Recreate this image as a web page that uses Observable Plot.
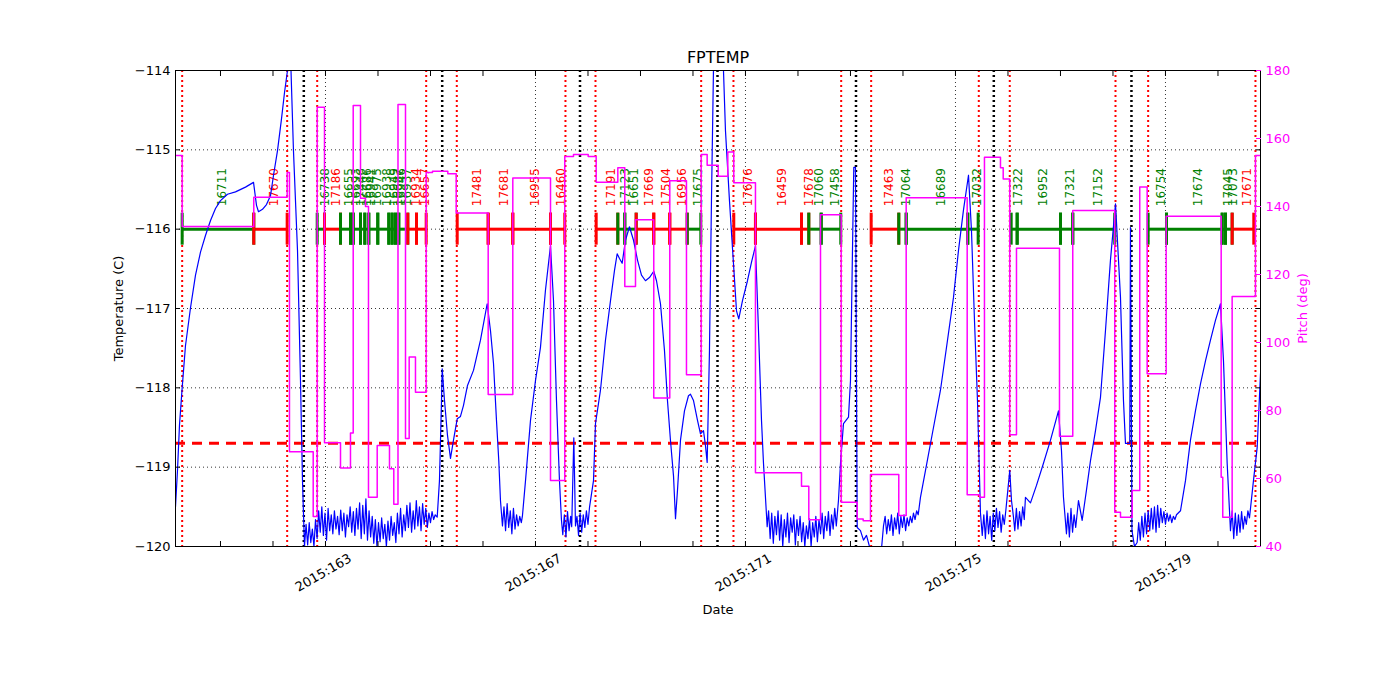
<!DOCTYPE html>
<html><head><meta charset="utf-8">
<script src="https://cdn.jsdelivr.net/npm/d3@7"></script>
<script src="https://cdn.jsdelivr.net/npm/@observablehq/plot@0.6"></script>
<style>body{margin:0;background:#fff;}</style>
</head><body><div id="chart"></div>
<script>
const year = 2015;
const titleText = "FPTEMP";
const xDomain = [160.143, 180.81];
const tempDomain = [-120, -114];
const pitchDomain = [40, 180];
const tempTicks = [-120, -119, -118, -117, -116, -115, -114];
const pitchTicks = [40, 60, 80, 100, 120, 140, 160, 180];
const dayTicks = [161,162,163,164,165,166,167,168,169,170,171,172,173,174,175,176,177,178,179,180];
const dayLabels = [163, 167, 171, 175, 179];
const planLimit = -118.7;
const obsidLevel = -116;

// radiation-zone boundaries (red dotted) and perigee times (black dotted), day of year
const radZone = [160.270,162.270,162.842,164.918,165.501,167.571,168.143,170.156,170.771,172.823,173.394,175.444,176.034,178.048,178.670,180.714];
const perigee = [162.587,165.223,167.848,170.467,173.105,175.730,178.352];

// observations along the schedule line
const obsId = ["16711","17670","16738","17186","16655","16693","17446","16686","16941","16975","16938","16949","16687","16946","16937","16934","16657",
  "17481","17681","16955","16460","17191","17123","16651","17669","17504","16956","17675",
  "17676","16459","17678","17060","17458","17463","17064","16689","17032",
  "17322","16952","17321","17152","16754","17674","17045","17073","17671"];
const obsStart = [160.270,161.634,162.842,162.981,163.286,163.476,163.528,163.667,163.749,163.825,163.996,164.206,164.270,164.333,164.396,164.568,164.733,
  165.509,166.099,166.568,167.286,168.156,168.568,168.701,168.918,169.253,169.558,169.890,
  170.777,171.190,172.067,172.206,172.442,173.394,173.920,174.061,175.234,
  176.061,176.175,177.000,177.234,178.670,179.019,180.080,180.143,180.270];
const obsStop = [161.634,162.270,162.981,163.286,163.476,163.528,163.667,163.749,163.825,163.996,164.206,164.270,164.333,164.396,164.568,164.733,164.918,
  166.099,166.568,167.286,167.558,168.568,168.701,168.918,169.253,169.558,169.890,170.149,
  171.190,172.067,172.206,172.442,172.815,173.920,174.061,175.234,175.432,
  176.175,177.000,177.234,178.034,179.019,180.080,180.143,180.270,180.682];
const obsKind = ["g","r","g","r","g","g","g","g","g","g","g","g","g","g","g","r","r",
  "r","r","r","r","r","g","g","r","r","r","g",
  "r","r","r","g","g","r","g","g","g",
  "g","g","g","g","g","g","g","g","r"];

// FPTEMP [day of year, deg C]
const fptemp = [
[160.143,-119.50],[160.181,-119.04],[160.219,-118.47],[160.270,-118.00],[160.333,-117.47],[160.429,-116.99],[160.524,-116.58],[160.619,-116.29],[160.714,-116.08],[160.810,-115.89],[160.905,-115.74],[161.000,-115.64],[161.133,-115.56],[161.286,-115.53],[161.476,-115.47],[161.629,-115.41],[161.686,-115.70],[161.724,-115.78],[161.800,-115.75],[161.876,-115.69],[161.952,-115.58],[162.010,-115.32],[162.086,-115.01],[162.162,-114.61],[162.219,-114.28],[162.276,-114.00],[162.314,-113.68],[162.343,-114.00],[162.390,-115.01],[162.467,-116.27],[162.524,-117.91],[162.562,-119.17],[162.600,-120.00],
[162.63,-119.72],[162.66,-119.98],[162.69,-119.70],[162.72,-119.95],[162.75,-119.78],[162.78,-120.00],[162.81,-119.66],[162.84,-119.90],[162.87,-119.55],[162.90,-119.82],[162.93,-119.50],[162.96,-119.86],[162.99,-119.58],[163.02,-119.92],[163.05,-119.52],[163.08,-119.80],[163.11,-119.60],[163.14,-119.84],[163.17,-119.55],[163.20,-119.78],[163.23,-119.62],[163.26,-119.85],[163.29,-119.54],[163.32,-119.80],[163.35,-119.58],[163.38,-119.88],[163.41,-119.60],[163.44,-119.75],[163.47,-119.50],[163.50,-119.82],[163.53,-119.56],[163.56,-119.86],[163.59,-119.52],[163.62,-119.78],[163.65,-119.45],[163.68,-119.90],[163.71,-119.48],[163.74,-119.84],[163.77,-119.40],[163.80,-119.92],[163.83,-119.55],[163.86,-119.88],[163.89,-119.62],[163.92,-119.96],[163.95,-119.66],[163.98,-120.00],[164.01,-119.70],[164.04,-119.94],[164.07,-119.64],[164.10,-119.90],[164.13,-119.72],[164.16,-120.00],[164.19,-119.68],[164.22,-119.92],[164.25,-119.62],[164.28,-119.86],[164.31,-119.70],[164.34,-119.95],[164.37,-119.58],[164.40,-119.84],[164.43,-119.52],[164.46,-119.88],[164.49,-119.60],[164.52,-119.80],[164.55,-119.48],[164.58,-119.76],[164.61,-119.45],[164.64,-119.82],[164.67,-119.55],[164.70,-119.78],[164.73,-119.42],[164.76,-119.74],[164.79,-119.50],[164.82,-119.80],[164.85,-119.46],[164.88,-119.72],[164.91,-119.52],[164.94,-119.76],[164.97,-119.58],[165.00,-119.70],[165.03,-119.56],[165.06,-119.66],[165.09,-119.60],[165.128,-119.63],
[165.171,-119.17],[165.210,-118.16],[165.223,-117.76],[165.267,-118.16],[165.324,-118.60],[165.381,-118.89],[165.438,-118.66],[165.509,-118.39],[165.571,-118.36],[165.629,-118.22],[165.705,-117.97],[165.819,-117.78],[165.952,-117.40],[166.080,-116.94],[166.143,-117.28],[166.200,-117.69],[166.257,-118.41],[166.301,-118.92],[166.333,-119.42],[166.371,-119.74],
[166.40,-119.50],[166.43,-119.80],[166.46,-119.46],[166.49,-119.76],[166.52,-119.55],[166.55,-119.84],[166.58,-119.52],[166.61,-119.78],[166.64,-119.60],[166.67,-119.74],[166.70,-119.62],[166.73,-119.70],
[166.752,-119.61],[166.810,-119.17],[166.905,-118.41],[167.000,-117.91],[167.095,-117.49],[167.190,-116.77],[167.286,-116.21],[167.343,-116.90],[167.400,-118.16],[167.457,-119.17],[167.495,-119.67],
[167.52,-119.85],[167.55,-119.60],[167.58,-119.88],[167.61,-119.56],[167.64,-119.80],[167.67,-119.62],[167.69,-119.75],[167.730,-118.63],[167.762,-119.74],
[167.79,-119.62],[167.82,-119.86],[167.85,-119.58],[167.88,-119.82],[167.91,-119.60],[167.94,-119.76],[167.97,-119.55],[168.00,-119.72],[168.03,-119.50],
[168.105,-119.17],[168.143,-118.45],[168.238,-118.03],[168.333,-117.40],[168.429,-116.90],[168.505,-116.52],[168.556,-116.31],[168.600,-116.37],[168.651,-116.43],[168.714,-116.14],[168.790,-115.97],[168.867,-116.14],[168.943,-116.39],[169.019,-116.58],[169.095,-116.65],[169.171,-116.61],[169.253,-116.53],[169.305,-116.65],[169.381,-116.94],[169.457,-117.53],[169.514,-118.16],[169.571,-118.66],[169.629,-119.11],[169.667,-119.65],[169.705,-119.29],[169.762,-118.66],[169.838,-118.29],[169.914,-118.10],[169.952,-118.08],[170.010,-118.16],[170.086,-118.41],[170.143,-118.58],[170.200,-118.54],[170.238,-118.73],[170.270,-118.94],[170.314,-117.53],[170.352,-115.64],[170.390,-114.00],[170.429,-113.37],[170.543,-113.37],[170.581,-114.00],[170.619,-114.76],[170.695,-115.64],[170.771,-116.43],[170.829,-117.03],[170.872,-117.13],[170.943,-116.90],[171.038,-116.65],[171.114,-116.42],[171.190,-116.21],[171.248,-117.28],[171.305,-118.41],[171.343,-118.95],[171.413,-119.75],
[171.44,-119.55],[171.47,-119.90],[171.50,-119.58],[171.53,-119.96],[171.56,-119.62],[171.59,-119.85],[171.62,-119.55],[171.65,-119.92],[171.68,-119.60],[171.71,-120.00],[171.74,-119.66],[171.77,-119.88],[171.80,-119.58],[171.83,-119.95],[171.86,-119.64],[171.89,-119.82],[171.92,-119.60],[171.95,-119.98],[171.98,-119.66],[172.01,-119.86],[172.04,-119.62],[172.07,-119.94],[172.10,-119.70],[172.13,-120.00],[172.16,-119.74],[172.19,-119.90],[172.22,-119.65],[172.25,-120.00],[172.28,-119.70],[172.31,-119.88],[172.34,-119.62],[172.37,-119.94],[172.40,-119.66],[172.43,-119.84],[172.46,-119.58],[172.49,-119.90],[172.52,-119.62],[172.55,-119.80],[172.58,-119.56],[172.61,-119.86],[172.64,-119.60],[172.67,-119.78],[172.70,-119.52],[172.73,-119.74],
[172.771,-119.42],[172.810,-118.95],[172.867,-118.45],[172.962,-118.37],[173.000,-117.91],[173.038,-116.27],[173.063,-115.22],[173.095,-115.22],[173.128,-119.76],[173.190,-119.80],[173.248,-119.92],[173.305,-119.86],[173.362,-120.00],[173.438,-120.18],[173.571,-120.18],[173.629,-119.74],
[173.66,-119.62],[173.69,-119.84],[173.72,-119.66],[173.75,-119.80],[173.78,-119.60],[173.81,-119.86],[173.84,-119.64],[173.87,-119.78],[173.90,-119.58],[173.93,-119.84],[173.96,-119.62],[173.99,-119.76],[174.02,-119.60],[174.05,-119.80],[174.08,-119.64],[174.11,-119.74],[174.14,-119.62],[174.17,-119.70],[174.20,-119.58],[174.23,-119.66],[174.26,-119.55],[174.29,-119.60],
[174.333,-119.38],[174.429,-119.04],[174.581,-118.50],[174.714,-118.03],[174.848,-117.40],[174.962,-116.86],[175.057,-116.27],[175.152,-115.76],[175.248,-115.32],[175.305,-116.02],[175.362,-117.15],[175.419,-118.16],[175.476,-119.58],
[175.51,-119.86],[175.54,-119.60],[175.57,-119.90],[175.60,-119.55],[175.63,-119.84],[175.66,-119.62],[175.69,-119.92],[175.72,-119.58],[175.75,-119.80],[175.78,-119.52],[175.81,-119.76],[175.84,-119.56],[175.87,-119.82],[175.90,-119.60],[175.93,-119.72],[175.96,-119.54],
[176.034,-119.04],[176.067,-119.42],[176.105,-119.63],[176.13,-119.80],[176.16,-119.52],[176.19,-119.78],[176.22,-119.56],[176.25,-119.74],[176.28,-119.50],[176.31,-119.66],
[176.333,-119.38],[176.429,-119.45],[176.543,-119.23],[176.676,-118.95],[176.810,-118.66],[176.962,-118.29],[177.019,-118.79],[177.057,-119.38],[177.114,-119.84],
[177.14,-119.58],[177.17,-119.88],[177.20,-119.52],[177.23,-119.82],[177.26,-119.60],[177.29,-119.76],
[177.343,-119.42],[177.413,-119.67],[177.495,-119.29],[177.571,-118.92],[177.667,-118.54],[177.762,-118.12],[177.857,-117.28],[177.952,-116.39],[178.048,-115.68],[178.105,-116.39],[178.143,-116.86],[178.200,-118.16],[178.238,-118.70],[178.320,-118.70],[178.333,-115.98],[178.362,-119.80],[178.410,-120.00],
[178.46,-119.95],[178.49,-119.70],[178.52,-119.92],[178.55,-119.62],[178.58,-119.88],[178.61,-119.58],[178.64,-119.84],[178.67,-119.55],[178.70,-119.80],[178.73,-119.52],[178.76,-119.78],[178.79,-119.50],[178.82,-119.82],[178.85,-119.48],[178.88,-119.76],[178.91,-119.52],[178.94,-119.70],[178.97,-119.56],[179.00,-119.72],[179.03,-119.58],[179.06,-119.68],[179.09,-119.60],[179.12,-119.70],[179.15,-119.62],[179.18,-119.66],[179.21,-119.60],
[179.286,-119.55],[179.381,-119.17],[179.476,-118.66],[179.571,-118.29],[179.667,-117.95],[179.762,-117.66],[179.857,-117.40],[179.952,-117.15],[180.048,-116.94],[180.105,-117.66],[180.175,-118.95],[180.238,-119.80],
[180.27,-119.55],[180.30,-119.90],[180.33,-119.58],[180.36,-119.86],[180.39,-119.60],[180.42,-119.82],[180.45,-119.56],[180.48,-119.78],[180.51,-119.62],[180.54,-119.72],[180.57,-119.55],[180.60,-119.64],
[180.676,-119.17],[180.747,-118.75],[180.810,-117.82]
];

// pitch [day of year, deg], held until the next change
const pitch = [
[160.143,155.0],[160.270,134.1],[161.634,142.7],[162.270,150.0],[162.314,67.9],[162.766,48.8],[162.842,169.2],[162.981,70.5],[163.286,63.1],[163.476,73.4],[163.528,169.7],[163.667,142.4],[163.762,140.0],[163.819,54.5],[163.985,69.7],[164.219,62.9],[164.301,52.4],[164.381,170.0],[164.524,71.8],[164.594,95.7],[164.714,85.4],[164.918,150.0],[165.038,150.4],[165.330,149.6],[165.490,138.1],[166.099,84.7],[166.568,148.4],[167.286,59.4],[167.558,154.7],[167.724,155.3],[168.004,154.7],[168.156,147.1],[168.568,151.4],[168.701,116.5],[168.905,136.1],[169.253,83.7],[169.558,147.6],[169.876,90.5],[170.156,155.3],[170.270,152.1],[170.480,148.9],[170.663,156.0],[170.777,147.0],[171.190,61.7],[172.067,57.7],[172.206,47.9],[172.429,137.6],[172.823,53.0],[173.128,48.1],[173.242,47.6],[173.381,61.2],[173.920,49.1],[174.061,142.6],[175.223,55.2],[175.463,54.5],[175.552,154.5],[175.857,151.4],[175.909,148.1],[176.034,72.9],[176.162,127.7],[176.981,72.4],[177.234,138.8],[178.034,50.1],[178.143,48.6],[178.366,56.5],[178.510,145.7],[178.651,90.8],[179.013,137.1],[180.061,60.4],[180.091,48.6],[180.270,113.5],[180.714,155.0],[180.810,155.0]
];

// map pitch onto the temperature scale (twin axis) and back
const p2t = p => tempDomain[0] + (p - pitchDomain[0]) * (tempDomain[1] - tempDomain[0]) / (pitchDomain[1] - pitchDomain[0]);
const t2p = t => pitchDomain[0] + (t - tempDomain[0]) * (pitchDomain[1] - pitchDomain[0]) / (tempDomain[1] - tempDomain[0]);

const colorOf = k => k === "g" ? "#008000" : "#ff0000";
const obs = obsId.map((id, i) => ({id, start: obsStart[i], stop: obsStop[i], kind: obsKind[i]}));
const obsTicks = obs.flatMap(o => [{x: o.start, kind: o.kind}, {x: o.stop, kind: o.kind}]);
const minus = d => String(d).replace("-", "\u2212");

const chart = Plot.plot({
  width: 1400, height: 700,
  marginLeft: 175, marginRight: 140, marginTop: 70, marginBottom: 154,
  style: {fontFamily: "DejaVu Sans", fontSize: "13px", background: "white", color: "black"},
  x: {domain: xDomain, axis: null},
  y: {domain: tempDomain, axis: null},
  marks: [
    Plot.gridY(tempTicks.slice(1, -1), {stroke: "black", strokeOpacity: 1, strokeWidth: 0.8, strokeDasharray: "1,3"}),
    Plot.gridX(dayLabels, {stroke: "black", strokeOpacity: 1, strokeWidth: 0.8, strokeDasharray: "1,3"}),
    Plot.ruleX(perigee, {stroke: "black", strokeWidth: 2.5, strokeDasharray: "2,3"}),
    Plot.ruleX(radZone, {stroke: "#ff0000", strokeWidth: 2, strokeDasharray: "2,3"}),
    Plot.ruleY([planLimit], {stroke: "#ff0000", strokeWidth: 3, strokeDasharray: "10,7"}),
    Plot.ruleY(obs, {y: () => obsidLevel, x1: "start", x2: "stop", stroke: o => colorOf(o.kind), strokeWidth: 3}),
    Plot.ruleX(obsTicks, {x: "x", y1: () => obsidLevel, y2: () => obsidLevel, insetTop: -16, insetBottom: -16, stroke: d => colorOf(d.kind), strokeWidth: 3}),
    Plot.text(obs, {x: o => (o.start + o.stop) / 2, y: () => obsidLevel, text: "id", rotate: -90, textAnchor: "start", dx: 4, dy: -23, fill: o => colorOf(o.kind), fontSize: 12}),
    Plot.line(fptemp, {x: d => d[0], y: d => d[1], stroke: "#0000ff", strokeWidth: 1.2, clip: true}),
    Plot.line(pitch, {x: d => d[0], y: d => p2t(d[1]), curve: "step-after", stroke: "#ff00ff", strokeWidth: 1.5, clip: true}),
    Plot.frame({stroke: "black", strokeWidth: 1}),
    Plot.axisY(tempTicks, {anchor: "left", tickSize: -5, tickPadding: 10, tickFormat: minus, label: null, fontSize: 13}),
    Plot.axisY(tempTicks, {anchor: "right", tickSize: -5, tickFormat: () => "", label: null}),
    Plot.axisY(pitchTicks.map(p2t), {anchor: "right", tickSize: -5, tickPadding: 10, tickFormat: t => String(Math.round(t2p(t))), color: "#ff00ff", label: null, fontSize: 13}),
    Plot.axisX(dayTicks, {anchor: "bottom", tickSize: -5, tickFormat: () => "", label: null}),
    Plot.axisX(dayTicks, {anchor: "top", tickSize: -5, tickFormat: () => "", label: null}),
    Plot.text(dayLabels, {x: d => d, frameAnchor: "bottom", dy: 30, rotate: -30, text: d => `${year}:${d}`, fontSize: 13}),
    Plot.text([titleText], {frameAnchor: "top", lineAnchor: "middle", dy: -13, fontSize: 16}),
    Plot.text(["Date"], {frameAnchor: "bottom", lineAnchor: "middle", dy: 63, fontSize: 13}),
    Plot.text(["Temperature (C)"], {frameAnchor: "left", textAnchor: "middle", dx: -57, rotate: -90, fontSize: 13}),
    Plot.text(["Pitch (deg)"], {frameAnchor: "right", textAnchor: "middle", dx: 42, rotate: -90, fontSize: 13, fill: "#ff00ff"})
  ]
});
document.getElementById("chart").appendChild(chart);
</script>
</body></html>
